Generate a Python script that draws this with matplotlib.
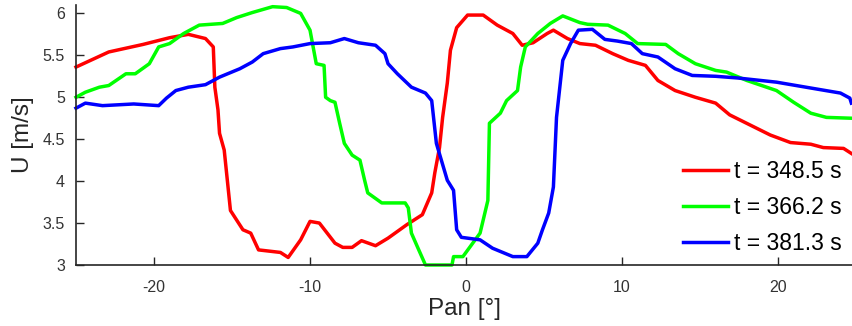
import matplotlib
matplotlib.use('Agg')
import matplotlib.pyplot as plt

# velocity profiles U vs pan angle
pan_348 = [-25.0, -22.9, -20.7, -19.0, -17.8, -16.7, -16.2, -16.1, -15.9, -15.8, -15.5, -15.3, -15.1,
	-14.3, -13.8, -13.3, -11.9, -11.4, -10.6, -10.0, -9.4, -8.4, -7.9, -7.3, -6.7, -5.8, -5.0, -3.8,
	-2.8, -2.2, -2.0, -1.7, -1.5, -1.2, -1.0, -0.6, 0.1, 1.1, 2.0, 3.0, 3.6, 4.3, 5.2, 5.6, 6.5, 7.3,
	8.3, 9.4, 10.4, 11.5, 12.3, 13.4, 14.7, 16.0, 16.9, 18.2, 19.5, 20.8, 22.1, 22.9, 24.2, 24.7]
u_348 = [5.36, 5.54, 5.63, 5.71, 5.75, 5.70, 5.60, 5.12, 4.85, 4.57, 4.37, 4.01, 3.65,
	3.42, 3.38, 3.18, 3.15, 3.09, 3.30, 3.52, 3.50, 3.26, 3.21, 3.21, 3.29, 3.23, 3.32, 3.48,
	3.60, 3.86, 4.10, 4.40, 4.76, 5.17, 5.56, 5.83, 5.98, 5.98, 5.86, 5.76, 5.62, 5.65, 5.76, 5.80, 5.70, 5.64,
	5.62, 5.52, 5.44, 5.38, 5.20, 5.08, 5.00, 4.93, 4.79, 4.67, 4.55, 4.46, 4.44, 4.40, 4.39, 4.33]

pan_366 = [-25.0, -24.4, -23.5, -22.9, -21.8, -21.2, -20.3, -19.7, -19.0, -18.1, -17.1, -15.6, -14.7,
	-13.7, -12.4, -11.5, -10.6, -10.0, -9.6, -9.1, -9.0, -8.7, -8.4, -8.1, -7.8, -7.3, -6.8, -6.5,
	-6.3, -5.4, -3.9, -3.7, -3.5, -3.1, -2.6, -0.9, -0.8, -0.2, 0.9, 1.4, 1.5, 2.2, 2.6, 3.3, 3.5,
	3.8, 4.6, 5.4, 6.2, 7.3, 7.8, 9.1, 10.2, 11.0, 12.8, 13.6, 14.7, 16.0, 16.7, 18.0, 19.9, 21.0,
	22.1, 23.1, 24.7]
u_366 = [5.00, 5.06, 5.12, 5.14, 5.28, 5.28, 5.40, 5.60, 5.64, 5.76, 5.86, 5.88, 5.95,
	6.01, 6.08, 6.07, 6.00, 5.80, 5.40, 5.38, 5.00, 4.96, 4.94, 4.69, 4.45, 4.31, 4.25, 4.01,
	3.86, 3.74, 3.74, 3.68, 3.38, 3.21, 3.00, 3.00, 3.10, 3.10, 3.38, 3.77, 4.69, 4.81, 4.96, 5.08, 5.36,
	5.60, 5.76, 5.88, 5.97, 5.89, 5.87, 5.86, 5.76, 5.64, 5.63, 5.52, 5.40, 5.32, 5.30, 5.20, 5.08, 4.94,
	4.81, 4.76, 4.75]

pan_381 = [-25.0, -24.4, -23.3, -21.3, -19.7, -19.2, -18.6, -17.8, -16.7, -15.8, -14.5, -13.7, -13.0,
	-11.9, -11.1, -10.0, -8.7, -7.8, -6.9, -5.8, -5.2, -5.0, -4.4, -3.5, -2.6, -2.2, -1.9, -1.2,
	-0.8, -0.6, -0.3, 0.9, 1.7, 3.0, 3.9, 4.6, 4.9, 5.3, 5.6, 5.8, 6.2, 6.7, 7.2, 8.1, 8.9, 9.7,
	10.6, 11.3, 12.3, 13.4, 14.5, 16.0, 17.4, 19.9, 22.1, 24.0, 24.6, 24.7]
u_381 = [4.87, 4.93, 4.90, 4.92, 4.90, 4.99, 5.08, 5.12, 5.15, 5.24, 5.34, 5.42, 5.52,
	5.58, 5.60, 5.64, 5.65, 5.70, 5.65, 5.62, 5.52, 5.40, 5.28, 5.12, 5.05, 4.96, 4.45, 4.01,
	3.89, 3.42, 3.33, 3.30, 3.20, 3.10, 3.10, 3.26, 3.42, 3.62, 3.93, 4.76, 5.44, 5.64, 5.80, 5.81, 5.69, 5.67,
	5.64, 5.52, 5.48, 5.34, 5.26, 5.25, 5.23, 5.18, 5.11, 5.05, 4.99, 4.93]

labels = ['t = 348.5 s', 't = 366.2 s', 't = 381.3 s']
x_ticks = [-20, -10, 0, 10, 20]
y_ticks = [3, 3.5, 4, 4.5, 5, 5.5, 6]
y_tick_labels = ['3', '3.5', '4', '4.5', '5', '5.5', '6']


def main():
	plt.rcParams['font.family'] = ['Liberation Sans', 'DejaVu Sans']
	plt.rcParams['axes.unicode_minus'] = False  # plain hyphen like the original

	fig = plt.figure(figsize=(8.52, 3.26), dpi=100)
	ax = fig.add_axes([76 / 852, 61 / 326, 776 / 852, 260 / 326])

	lw = 2.5
	ax.plot(pan_348, u_348, color='#ff0000', lw=lw, label=labels[0], clip_on=False)
	ax.plot(pan_366, u_366, color='#00ff00', lw=lw, label=labels[1], clip_on=False)
	ax.plot(pan_381, u_381, color='#0000ff', lw=lw, label=labels[2], clip_on=False)

	ax.set_xlim(-25, 24.74)
	ax.set_ylim(3, 6.1)
	ax.set_xticks(x_ticks)
	ax.set_yticks(y_ticks)
	ax.set_yticklabels(y_tick_labels)

	# matlab style: only left/bottom axis, ticks pointing in
	ax.spines['top'].set_visible(False)
	ax.spines['right'].set_visible(False)
	for s in ['left', 'bottom']:
		ax.spines[s].set_color('#262626')
		ax.spines[s].set_linewidth(1.2)
	ax.tick_params(direction='in', length=6, width=1, colors='#262626', labelsize=11.5, labelcolor='#333333')
	ax.tick_params(axis='x', pad=11)
	ax.tick_params(axis='y', pad=8)

	ax.set_xlabel('Pan [°]', fontsize=17.5, color='#262626', labelpad=2)
	ax.set_ylabel('U [m/s]', fontsize=17.5, color='#262626', labelpad=6)

	ax.legend(loc='lower right', bbox_to_anchor=(0.987, 0.04), frameon=False, fontsize=16.5,
		handlelength=2.0, handletextpad=0.25, labelspacing=0.55, borderpad=0, borderaxespad=0)

	fig.savefig('out.png', dpi=100)


if __name__ == '__main__':
	main()
